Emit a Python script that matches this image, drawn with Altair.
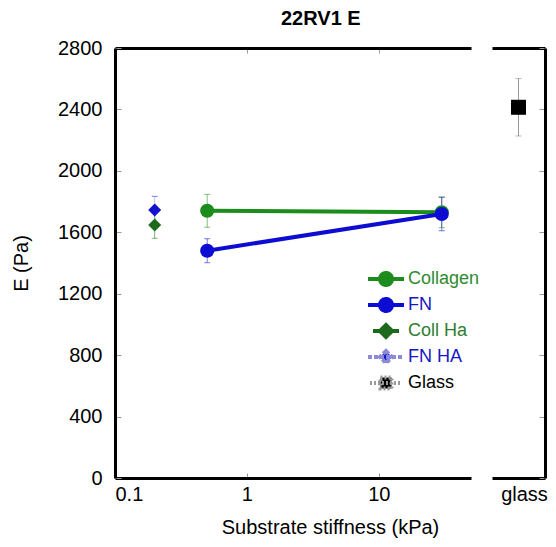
import altair as alt
import pandas as pd

FONT = "Liberation Sans"

# Series definitions
series_names = ["Collagen", "FN", "Coll Ha", "FN HA", "Glass"]
series_colors = ["#1c8c1c", "#0c0cd2", "#1d6a1d", "#1212cf", "#000000"]
label_colors = ["#2e8b2e", "#1616c4", "#2e7d2e", "#1616c4", "#000000"]

# Young's modulus (Pa) vs substrate stiffness (kPa), mean and error
collagen_x = [0.5, 30]
collagen_e = [1740, 1730]
collagen_err = [107, 100]

fn_x = [0.5, 30]
fn_e = [1480, 1719]
fn_err = [78, 109]

collha_x = [0.2]
collha_e = [1647]
collha_err = [86]

fnha_x = [0.2]
fnha_e = [1745]
fnha_err = [89]

glass_cat = ["glass"]
glass_e = [2414]
glass_err = [187]

y_tick_values = [0, 400, 800, 1200, 1600, 2000, 2400, 2800]
x_tick_values = [0.1, 1, 10]
x_inner_ticks = [1, 10]

rows = []
for name, xs, es, errs in [
    ("Collagen", collagen_x, collagen_e, collagen_err),
    ("FN", fn_x, fn_e, fn_err),
    ("Coll Ha", collha_x, collha_e, collha_err),
    ("FN HA", fnha_x, fnha_e, fnha_err),
]:
    for x, e, err in zip(xs, es, errs):
        rows.append({"series": name, "x": x, "E": e, "lo": e - err, "hi": e + err})
df = pd.DataFrame(rows)

gdf = pd.DataFrame({"cat": glass_cat, "E": glass_e,
                    "lo": [e - s for e, s in zip(glass_e, glass_err)],
                    "hi": [e + s for e, s in zip(glass_e, glass_err)]})

W, H = 356, 430
GW = 53

xscale = alt.Scale(type="log", domain=[0.1, 50], nice=False)
yscale = alt.Scale(domain=[0, 2800], nice=False, zero=False)
color_scale = alt.Scale(domain=series_names, range=series_colors)

# legend symbols: a line segment with the series marker on it
legend_paths = [
    "M-1.8,0H1.8M-0.6,0A0.6,0.6,0,1,1,0.6,0A0.6,0.6,0,1,1,-0.6,0Z",
    "M-1.8,0H1.8M-0.6,0A0.6,0.6,0,1,1,0.6,0A0.6,0.6,0,1,1,-0.6,0Z",
    "M-1.3,0H1.3M0,-0.6L0.6,0L0,0.6L-0.6,0Z",
    "M-1.8,0H1.8M0,-0.6L0.6,0L0,0.6L-0.6,0Z",
    "M-1.6,0H1.6M-0.55,-0.55H0.55V0.55H-0.55Z",
]

label_color_expr = "".join(
    f"datum.label == '{n}' ? '{c}' : " for n, c in zip(series_names, label_colors)
) + "'black'"

legend = alt.Legend(
    title=None, orient="none", legendX=259, legendY=219,
    labelFont=FONT, labelFontSize=18, labelColor=alt.ExprRef(expr=label_color_expr),
    symbolSize=400, labelOffset=10, rowPadding=-2.5, padding=0,
)

legend_layer = alt.Chart(df).transform_filter("false").mark_point(
    filled=True, size=400, opacity=1
).encode(
    fill=alt.Fill("series:N", scale=color_scale, legend=legend),
    stroke=alt.Stroke("series:N", scale=alt.Scale(domain=series_names,
                      range=["#1c8c1c", "#0c0cd2", "#1d6a1d", "#8a8ad8", "#9a9a9a"]), legend=legend),
    shape=alt.Shape("series:N", scale=alt.Scale(domain=series_names, range=legend_paths), legend=legend),
    strokeWidth=alt.StrokeWidth("series:N", scale=alt.Scale(domain=series_names, range=[4, 4, 1, 1, 1]), legend=legend),
    strokeDash=alt.StrokeDash("series:N", scale=alt.Scale(domain=series_names, range=[[1, 0], [1, 0], [1, 0], [4, 2], [2, 2]]), legend=legend),
)

base = alt.Chart(df)

# error bars (carry the inward tick marks of the bottom and left axes)
err_rule = base.mark_rule(strokeWidth=1, opacity=0.55).encode(
    x=alt.X("x:Q", scale=xscale, axis=alt.Axis(
        orient="top", offset=-H, values=x_inner_ticks, labels=False, domain=False,
        ticks=True, tickSize=5, tickColor="#999999", tickWidth=1, title=None, grid=False)),
    y=alt.Y("lo:Q", scale=yscale, axis=alt.Axis(
        orient="right", offset=-W, values=y_tick_values, labels=False, domain=False,
        ticks=True, tickSize=6, tickColor="#999999", tickWidth=1, title=None, grid=False)),
    y2="hi:Q",
    stroke=alt.Stroke("series:N", scale=color_scale, legend=None),
)

err_caps = base.transform_fold(["lo", "hi"], as_=["end", "val"]).mark_tick(
    orient="horizontal", size=6, thickness=1, opacity=0.55
).encode(
    x=alt.X("x:Q", scale=xscale, axis=None),
    y=alt.Y("val:Q", scale=yscale, axis=None),
    color=alt.Color("series:N", scale=color_scale, legend=None),
)

lines = base.transform_filter(
    alt.FieldOneOfPredicate(field="series", oneOf=["Collagen", "FN"])
).mark_line(strokeWidth=4).encode(
    x=alt.X("x:Q", scale=xscale, axis=alt.Axis(
        orient="bottom", values=x_tick_values, labelExpr="datum.value == 0.1 ? '0.1' : format(datum.value, 'd')",
        ticks=False, domainWidth=3, domainColor="black", labelFont=FONT, labelFontSize=20,
        labelColor="black", labelPadding=6, grid=False,
        title="Substrate stiffness (kPa)", titleFont=FONT, titleFontSize=20,
        titleFontWeight="normal", titleColor="black", titlePadding=13, titleX=215)),
    y=alt.Y("E:Q", scale=yscale, axis=alt.Axis(
        orient="left", values=y_tick_values, format="d", ticks=False, domainWidth=3,
        domainColor="black", labelFont=FONT, labelFontSize=20, labelColor="black",
        labelPadding=13, grid=False, title="E (Pa)", titleFont=FONT, titleFontSize=20,
        titleFontWeight="normal", titleColor="#000000", titlePadding=26)),
    stroke=alt.Stroke("series:N", scale=color_scale, legend=None),
    detail="series:N",
)

diamonds = base.transform_filter(
    alt.FieldOneOfPredicate(field="series", oneOf=["Coll Ha", "FN HA"])
).mark_point(shape="diamond", filled=True, size=170, opacity=1).encode(
    x=alt.X("x:Q", scale=xscale, axis=None),
    y=alt.Y("E:Q", scale=yscale, axis=None),
    fill=alt.Fill("series:N", scale=color_scale, legend=None),
)

circles = base.transform_filter(
    alt.FieldOneOfPredicate(field="series", oneOf=["Collagen", "FN"])
).mark_circle(size=200, opacity=1).encode(
    # this layer also draws the top frame line with its inward ticks
    x=alt.X("x:Q", scale=xscale, axis=alt.Axis(
        orient="bottom", offset=-H, values=x_inner_ticks, labels=False, domain=True,
        domainWidth=3, domainColor="black", ticks=True, tickSize=5, tickColor="#999999",
        tickWidth=1, title=None, grid=False)),
    y=alt.Y("E:Q", scale=yscale, axis=None),
    fill=alt.Fill("series:N", scale=color_scale, legend=None),
)

main = alt.layer(legend_layer, err_rule, err_caps, lines, diamonds, circles).resolve_axis(
    x="independent", y="independent"
).properties(width=W, height=H)

# Glass reference panel
gbase = alt.Chart(gdf)
gx = alt.Scale(domain=glass_cat)

g_rule = gbase.mark_rule(strokeWidth=1, color="#999999").encode(
    x=alt.X("cat:N", scale=gx, axis=alt.Axis(
        orient="bottom", offset=-H, labels=False, ticks=False, domain=True,
        domainWidth=3, domainColor="black", title=None, grid=False)),
    y=alt.Y("lo:Q", scale=yscale, axis=alt.Axis(
        orient="left", offset=-GW, values=y_tick_values, labels=False, domain=False,
        ticks=True, tickSize=6, tickColor="#999999", tickWidth=1, title=None, grid=False)),
    y2="hi:Q",
)

g_caps = gbase.transform_fold(["lo", "hi"], as_=["end", "val"]).mark_tick(
    orient="horizontal", size=6, thickness=1, color="#999999"
).encode(
    x=alt.X("cat:N", scale=gx, axis=None),
    y=alt.Y("val:Q", scale=yscale, axis=None),
)

g_point = gbase.mark_square(size=225, color="black", opacity=1).encode(
    x=alt.X("cat:N", scale=gx, axis=alt.Axis(
        orient="bottom", labelAngle=0, ticks=False, domainWidth=3, domainColor="black",
        labelFont=FONT, labelFontSize=20, labelColor="black", labelPadding=6,
        labelOffset=6, title=None, grid=False)),
    y=alt.Y("E:Q", scale=yscale, axis=alt.Axis(
        orient="right", labels=False, ticks=False, domainWidth=3, domainColor="black",
        title=None, grid=False)),
)

glass = alt.layer(g_rule, g_caps, g_point).resolve_axis(
    x="independent", y="independent"
).properties(width=GW, height=H)

chart = alt.hconcat(main, glass, spacing=21).properties(
    title=alt.TitleParams("22RV1 E", font=FONT, fontSize=20, fontWeight="bold",
                          color="black", anchor="start", frame="group", dx=166, offset=9),
    padding={"left": 11, "top": 9, "right": 5, "bottom": 5},
).configure_view(stroke=None)

chart.save("out.html", embed_options={"renderer": "svg", "actions": False})
